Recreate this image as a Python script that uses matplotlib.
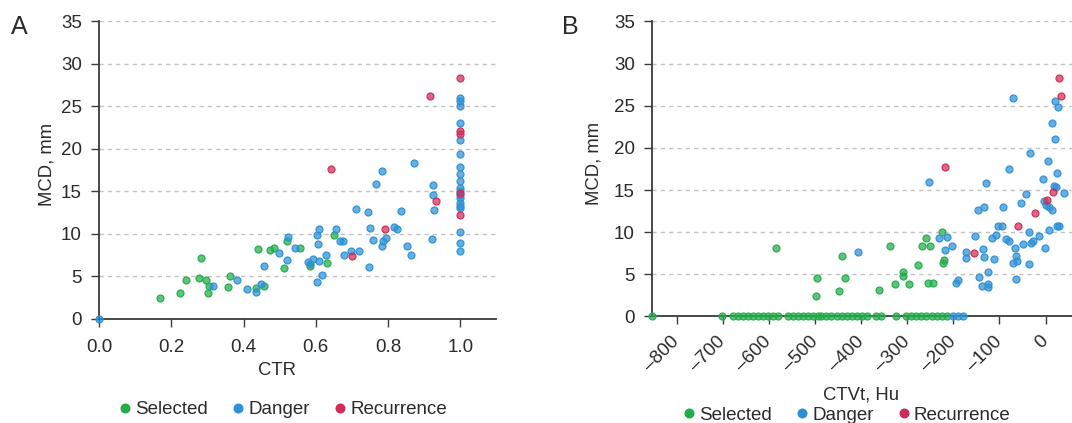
import matplotlib
matplotlib.use("Agg")
import matplotlib.pyplot as plt
from matplotlib.lines import Line2D
from matplotlib.colors import to_rgba

plt.rcParams['font.family'] = ['Liberation Sans', 'DejaVu Sans']

# ---------------- Panel A data (CTR vs MCD) ----------------
A_sel_ctr = [0.169, 0.224, 0.240, 0.275, 0.281, 0.297, 0.305, 0.302, 0.363, 0.358,
             0.434, 0.455, 0.441, 0.472, 0.485, 0.512, 0.519, 0.556, 0.583, 0.631, 0.649]
A_sel_mcd = [2.43, 3.02, 4.63, 4.83, 7.14, 4.63, 3.92, 3.02, 5.10, 3.73,
             3.65, 3.92, 8.24, 8.12, 8.36, 5.96, 9.22, 8.36, 6.20, 6.59, 9.93]

A_dan_ctr = [0.0, 0.316, 0.381, 0.409, 0.434, 0.448, 0.456, 0.499, 0.521, 0.524,
             0.541, 0.578, 0.584, 0.591, 0.602, 0.603, 0.605, 0.608, 0.610, 0.616,
             0.627, 0.655, 0.668, 0.675, 0.678, 0.698, 0.710, 0.720, 0.745, 0.747,
             0.750, 0.757, 0.767, 0.783, 0.782, 0.786, 0.795, 0.817, 0.825, 0.836,
             0.852, 0.864, 0.873, 0.922, 0.924, 0.924, 0.928,
             1.0, 1.0, 1.0, 1.0, 1.0, 1.0, 1.0, 1.0, 1.0, 1.0,
             1.0, 1.0, 1.0, 1.0, 1.0, 1.0, 1.0, 1.0, 1.0]
A_dan_mcd = [0.0, 3.92, 4.63, 3.53, 3.22, 4.12, 6.24, 7.77, 6.95, 9.61,
             8.36, 6.75, 6.47, 7.06, 4.32, 9.85, 8.83, 10.63, 6.87, 5.22,
             7.53, 10.63, 9.22, 9.22, 7.53, 8.04, 12.95, 7.97, 12.56, 6.16,
             10.75, 9.34, 15.89, 17.46, 8.63, 9.22, 9.54, 10.79, 10.63, 12.75,
             8.55, 7.53, 18.40, 9.46, 15.77, 14.56, 12.83,
             26.0, 25.6, 25.0, 23.1, 21.0, 19.4, 17.9, 17.0, 16.2, 15.4,
             15.1, 14.6, 14.2, 13.7, 13.3, 13.0, 10.2, 8.9, 8.0]

A_rec_ctr = [0.642, 0.700, 0.792, 0.915, 0.933, 1.0, 1.0, 1.0, 1.0, 1.0]
A_rec_mcd = [17.70, 7.42, 10.63, 26.21, 13.85, 28.33, 22.09, 21.78, 14.8, 12.2]

# ---------------- Panel B data (CTVt vs MCD) ----------------
B_sel_ctvt = [-584.4, -498.2, -495.3, -448.2, -442.4, -434.5,
              -360.6, -338.2, -325.9, -309.9, -308.5, -296.2, -275.9, -268.6,
              -259.2, -250.5, -255.6, -244.7, -223.7, -219.4, -223.0,
              -853, -701, -679, -668, -657, -646, -635, -624, -613, -602, -591,
              -581, -559, -548, -537, -526, -515, -504, -493, -487, -477, -466,
              -452, -441, -430, -420, -409, -399, -388, -367, -356, -324, -303,
              -292, -282, -271, -260, -246, -235, -225, -214]
B_sel_mcd = [8.13, 2.42, 4.60, 3.01, 7.13, 4.60,
             3.12, 8.34, 3.83, 5.26, 4.86, 3.83, 6.05, 8.42,
             9.33, 8.42, 4.03, 4.03, 10.08, 6.76, 6.32,
             0, 0, 0, 0, 0, 0, 0, 0, 0, 0, 0,
             0, 0, 0, 0, 0, 0, 0, 0, 0, 0, 0,
             0, 0, 0, 0, 0, 0, 0, 0, 0, 0, 0,
             0, 0, 0, 0, 0, 0, 0, 0]

B_dan_ctvt = [-407.7, -252.7, -231.0, -214.3, -217.2, -202.0, -194.8, -189.0, -173.1, -172.3,
              -152.8, -147.0, -134.0, -128.9, -135.4, -132.5, -144.1, -125.3, -137.6, -123.8,
              -123.8, -115.9, -110.8, -106.4, -102.1, -94.1, -92.0, -86.2, -78.9, -78.9,
              -65.9, -63.7, -70.2, -60.8, -64.4, -53.6, -47.8, -41.3, -36.9, -35.5,
              -33.3, -31.1, -26.1, -13.8, -6.5, -4.3, -0.7, 5.1, 6.5, 0.0,
              8.0, 13.8, 18.8, 25.3, 23.2, 24.6, 29.7, 40.6,
              -70.2, 13.0, 19.6, 27.5, 20.3,
              -200, -189, -179]
B_dan_mcd = [7.63, 15.93, 9.33, 9.41, 7.87, 8.42, 4.03, 4.27, 7.71, 6.92,
             9.60, 12.65, 13.04, 15.85, 8.02, 7.04, 4.74, 5.30, 3.64, 3.83,
             3.44, 9.33, 6.84, 9.72, 10.79, 10.79, 12.96, 9.25, 8.93, 17.55,
             8.14, 7.15, 6.32, 6.56, 4.47, 13.48, 8.62, 14.51, 10.0, 6.25,
             19.45, 8.74, 8.93, 9.53, 16.32, 13.75, 8.14, 18.42, 10.32, 13.28,
             12.96, 12.69, 15.45, 17.04, 15.34, 10.79, 10.79, 14.66,
             25.88, 22.99, 25.56, 24.89, 21.0,
             0, 0, 0]

B_rec_ctvt = [-217.2, -155.0, -58.7, -23.2, 3.6, 15.2, 29, 34]
B_rec_mcd = [17.75, 7.55, 10.71, 12.25, 13.87, 14.82, 28.3, 26.2]

A_xticks = [0.0, 0.2, 0.4, 0.6, 0.8, 1.0]
B_xticks = [-800, -700, -600, -500, -400, -300, -200, -100, 0]
y_ticks = [0, 5, 10, 15, 20, 25, 30, 35]
legend_labels = ['Selected', 'Danger', 'Recurrence']

GREEN = '#22ad4a'
BLUE = '#2d91d6'
RED = '#cf2c57'
TXT = '#2a2a2a'
SPINE = '#3a3a3a'

fig = plt.figure(figsize=(10.72, 4.23), dpi=100)
axA = fig.add_axes([0.0926, 0.2459, 0.3704, 0.7033])
axB = fig.add_axes([0.6085, 0.2518, 0.3926, 0.6974])


def style(ax):
    for s in ['top', 'right']:
        ax.spines[s].set_visible(False)
    for s in ['left', 'bottom']:
        ax.spines[s].set_color(SPINE)
        ax.spines[s].set_linewidth(1.3)
    ax.set_ylim(0, 35)
    ax.set_yticks(y_ticks)
    ax.yaxis.grid(True, color='#c2c2c2', linestyle=(0, (3, 3)), linewidth=1.0)
    ax.set_axisbelow(True)
    ax.tick_params(axis='both', colors=SPINE, labelcolor=TXT, labelsize=13.5,
                   length=6, width=1.0, direction='out')
    ax.tick_params(axis='y', pad=6.5)
    ax.set_facecolor('none')


def pts(ax, x, y, c):
    ax.scatter(x, y, s=25, facecolors=[to_rgba(c, 0.72)], edgecolors=[to_rgba(c, 0.95)],
               linewidths=0.9, clip_on=False, zorder=3)


# Panel A
style(axA)
axA.set_xlim(0, 1.1)
axA.set_xticks(A_xticks)
axA.set_xticklabels([f'{v:.1f}' for v in A_xticks])
axA.tick_params(axis='x', pad=8.5)
pts(axA, A_sel_ctr, A_sel_mcd, GREEN)
pts(axA, A_dan_ctr, A_dan_mcd, BLUE)
pts(axA, A_rec_ctr, A_rec_mcd, RED)
axA.set_ylabel('MCD, mm', fontsize=13.3, color=TXT)
axA.yaxis.set_label_coords(-0.110, 0.52)
axA.set_xlabel('CTR', fontsize=13.3, color=TXT)
axA.xaxis.set_label_coords(0.447, -0.143)

# Panel B
style(axB)
axB.set_xlim(-853, 60)
axB.set_xticks(B_xticks)
axB.set_xticklabels([f'{v}'.replace('-', '\u2013') for v in B_xticks],
                    rotation=45, ha='right', va='center', rotation_mode='anchor')
axB.tick_params(axis='x', pad=10)
pts(axB, B_sel_ctvt, B_sel_mcd, GREEN)
pts(axB, B_dan_ctvt, B_dan_mcd, BLUE)
pts(axB, B_rec_ctvt, B_rec_mcd, RED)
axB.set_ylabel('MCD, mm', fontsize=13.3, color=TXT)
axB.yaxis.set_label_coords(-0.118, 0.52)
axB.set_xlabel('CTVt, Hu', fontsize=13.3, color=TXT)
axB.xaxis.set_label_coords(0.497, -0.236)

# Panel letters
fig.text(0.010, 0.935, 'A', fontsize=18, color=TXT, va='center')
fig.text(0.524, 0.935, 'B', fontsize=18, color=TXT, va='center')

# Legends
handles = [Line2D([], [], marker='o', linestyle='none', markersize=6.2,
                  markerfacecolor=c, markeredgecolor=c) for c in (GREEN, BLUE, RED)]
for cx, cy in [(0.264, 0.031), (0.790, 0.019)]:
    fig.legend(handles, legend_labels, loc='center', bbox_to_anchor=(cx, cy),
               ncol=3, frameon=False, fontsize=13.5, handlelength=0.6,
               handletextpad=0.25, columnspacing=1.3, labelcolor=TXT, borderpad=0)

fig.savefig('out.png', dpi=100)
